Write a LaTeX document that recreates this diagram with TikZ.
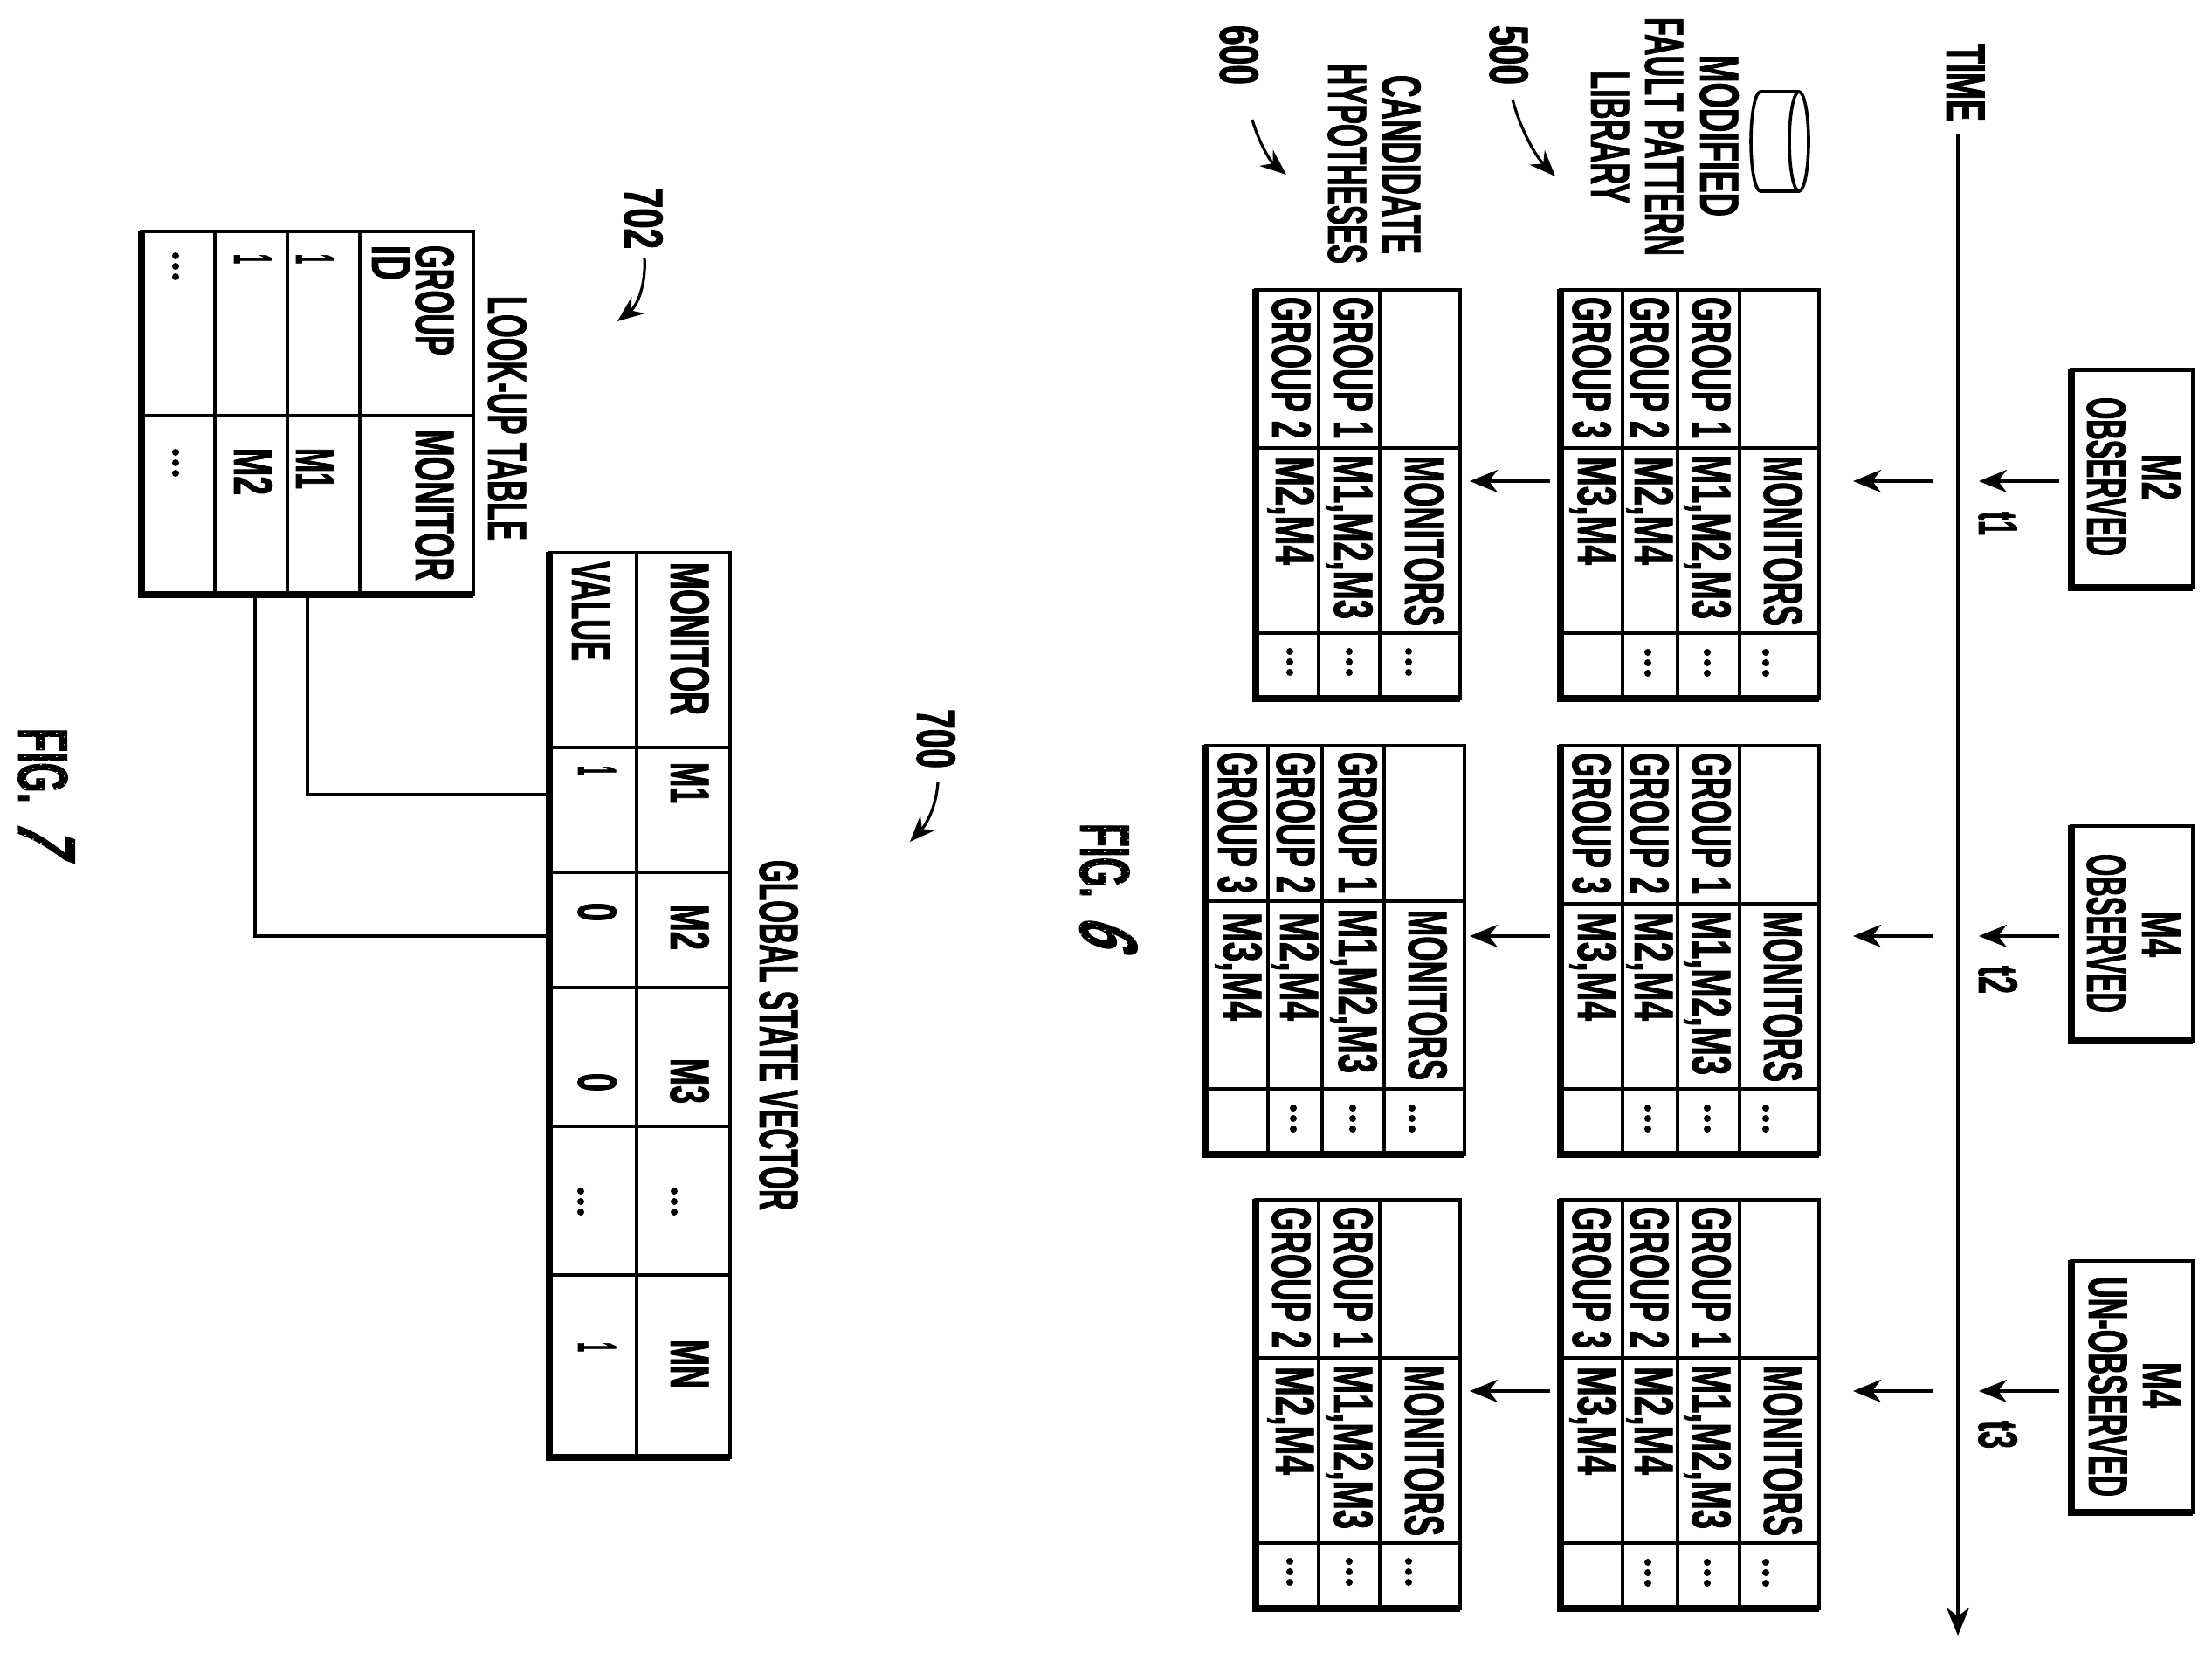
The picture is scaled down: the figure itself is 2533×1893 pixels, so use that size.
\documentclass[tikz,border=0pt]{standalone}
\usepackage{fontspec}
\usepackage{graphicx}
\usetikzlibrary{arrows.meta}
\newfontfamily\dfont[FakeStretch=0.56,FakeBold=1.2]{Liberation Sans Bold}
\newfontfamily\ffont[FakeStretch=0.56,FakeBold=1.2,FakeSlant=0.3]{Liberation Sans Bold}
\newdimen\pxu \pxu=0.5pt
\newcounter{lc}
\tikzset{
  thinline/.style={line width=1.85pt,line cap=rect},
  thickline/.style={line width=4pt,line cap=rect},
  conn/.style={line width=2pt},
  arr/.style={line width=2pt,-{Stealth[length=16pt,width=13pt,inset=5pt]}},
  lead/.style={line width=1.6pt,-{Stealth[length=15pt,width=12pt,inset=5pt]}},
  lbl/.style={rotate=-90,anchor=base west,inner sep=0pt,outer sep=0pt,font=\dfont\fontsize{31.5pt}{34pt}\selectfont},
  figlbl/.style={rotate=-90,anchor=base west,inner sep=0pt,outer sep=0pt,font=\dfont\fontsize{40.5pt}{42pt}\selectfont},
  fignum/.style={rotate=-90,anchor=base west,inner sep=0pt,outer sep=0pt,font=\ffont\fontsize{47pt}{49pt}\selectfont},
  tablebox/.style={draw,line width=1.85pt,inner sep=0pt,outer sep=0pt}
}
% base x, top y, length in px, text
\newcommand{\lab}[4]{\stepcounter{lc}\node[lbl,name=L\arabic{lc}] at (#1,#2) {\resizebox{#3\pxu}{\height}{#4}};}
\newcommand{\threedots}[2]{\foreach \k in {0,12,24}{\fill (#1,{#2+\k}) circle[radius=2pt];}}
% name, x0,x1,y0,y1, row xs, col ys
\newcommand{\dtable}[7]{%
  \node[tablebox,minimum width={(#3-#2)*0.5pt},minimum height={(#5-#4)*0.5pt}] (#1) at ({(#2+#3)/2},{(#4+#5)/2}) {};
  \foreach \r in {#6}{\draw[thinline] (\r,#4) -- (\r,#5);}
  \foreach \c in {#7}{\draw[thinline] (#2,\c) -- (#3,\c);}
  \draw[thickline] (#2,{#4+3}) -- (#2,#5) -- ({#3-4},#5);
}
% library table at top y
\newcommand{\libtable}[2]{%
  \dtable{#1}{1787}{2083}{#2}{#2+468}{1858,1921,1992}{#2+181,#2+393}
  \lab{1938}{#2+8}{162}{GROUP 1}
  \lab{1867}{#2+8}{162}{GROUP 2}
  \lab{1801}{#2+8}{162}{GROUP 3}
  \lab{2020}{#2+190}{195}{MONITORS}
  \lab{1938}{#2+189}{188}{M1,M2,M3}
  \lab{1872}{#2+191}{124}{M2,M4}
  \lab{1807}{#2+191}{124}{M3,M4}
  \threedots{2022}{#2+415}
  \threedots{1955}{#2+415}
  \threedots{1887}{#2+415}
}
% three-row candidate table
\newcommand{\candtable}[2]{%
  \dtable{#1}{1438}{1672}{#2}{#2+468}{1510,1580}{#2+181,#2+393}
  \lab{1528}{#2+8}{162}{GROUP 1}
  \lab{1457}{#2+8}{162}{GROUP 2}
  \lab{1609}{#2+190}{195}{MONITORS}
  \lab{1528}{#2+189}{188}{M1,M2,M3}
  \lab{1461}{#2+191}{124}{M2,M4}
  \threedots{1613}{#2+414}
  \threedots{1545}{#2+414}
  \threedots{1477}{#2+414}
}
\newcommand{\stipple}[4]{%
  \foreach \i in {0,...,#3}{\foreach \j in {0,...,#4}{%
    \fill[white] ({#1+\i*9},{#2+\j*9+mod(\i,2)*4.5}) circle[radius=0.45pt];}}}
\begin{document}
\begin{tikzpicture}[x=0.5pt,y=-0.5pt]
\useasboundingbox (0,0) rectangle (2533,1893);
\fill[white] (0,0) rectangle (2533,1893);

% time axis
\lab{2229}{50}{89}{TIME}
\coordinate (ts) at (2242,154);
\coordinate (te) at (2242,1873);
\draw[line width=2pt,-{Stealth[length=16pt,width=13pt,inset=5pt]}] (ts) -- (te);

% event boxes
\foreach \n/\a/\b in {ba/424/673,bb/946/1192,bc/1444/1732}{
  \node[tablebox,minimum width={(2511-2372)*0.5pt},minimum height={(\b-\a)*0.5pt}] (\n) at ({(2372+2511)/2},{(\a+\b)/2}) {};
  \draw[thickline] (2372,{\a+3}) -- (2372,\b) -- (2507,\b);
}
\lab{2453}{520}{53}{M2}
\lab{2390}{455}{182}{OBSERVED}
\lab{2453}{1043}{53}{M4}
\lab{2390}{978}{182}{OBSERVED}
\lab{2454}{1560}{53}{M4}
\lab{2392}{1462}{252}{UN-OBSERVED}
\lab{2266}{586}{27}{t1}
\lab{2266}{1106}{32}{t2}
\lab{2266}{1627}{32}{t3}

% event arrows
\foreach \i/\y in {1/551,2/1072,3/1593}{
  \coordinate (es\i) at (2358,\y);
  \coordinate (ee\i) at (2266,\y);
  \draw[arr] (es\i) -- (ee\i);
  \coordinate (ls\i) at (2214,\y);
  \coordinate (le\i) at (2122,\y);
  \draw[arr] (ls\i) -- (le\i);
  \coordinate (cs\i) at (1775,\y);
  \coordinate (ce\i) at (1683,\y);
  \draw[arr] (cs\i) -- (ce\i);
}

% library column
\libtable{liba}{332}
\libtable{libb}{854}
\libtable{libc}{1374}

% candidates
\candtable{canda}{332}
\dtable{candb}{1381}{1677}{854}{1322}{1452,1514,1585}{1032,1247}
\lab{1533}{861}{162}{GROUP 1}
\lab{1462}{861}{162}{GROUP 2}
\lab{1395}{861}{162}{GROUP 3}
\lab{1613}{1042}{195}{MONITORS}
\lab{1533}{1041}{188}{M1,M2,M3}
\lab{1466}{1045}{124}{M2,M4}
\lab{1401}{1045}{124}{M3,M4}
\threedots{1617}{1269}
\threedots{1549}{1269}
\threedots{1481}{1269}
\candtable{candc}{1374}

% cylinder and labels
\draw[line width=1.8pt] (2060,105) -- (2016,105) arc[start angle=90,end angle=270,x radius=5.5pt,y radius=28.5pt] -- (2060,219);
\draw[line width=1.8pt] (2060,162) ellipse[x radius=5.5pt,y radius=28.5pt];
\lab{1947}{63}{185}{MODIFIED}
\lab{1884}{20}{273}{FAULT PATTERN}
\lab{1822}{81}{152}{LIBRARY}
\lab{1706}{29}{68}{500}
\coordinate (l5s) at (1732,114);
\coordinate (l5e) at (1781,202);
\draw[lead] (l5s) .. controls (1742,150) and (1758,178) .. (l5e);
\lab{1583}{86}{205}{CANDIDATE}
\lab{1521}{73}{229}{HYPOTHESES}
\lab{1397}{29}{68}{600}
\coordinate (l6s) at (1434,137);
\coordinate (l6e) at (1473,200);
\draw[lead] (l6s) .. controls (1442,165) and (1455,185) .. (l6e);

% FIG 6
\node[figlbl] (fig6) at (1237,943) {\resizebox{85\pxu}{\height}{FIG.}};
\node[fignum] (fig6n) at (1237,1047) {\resizebox{32\pxu}{\height}{6}};
\stipple{1238}{944}{7}{14}

% Global state vector
\lab{870}{985}{401}{GLOBAL STATE VECTOR}
\dtable{gsv}{629}{836}{633}{1669}{729}{856,999,1131,1290,1460}
\lab{768}{644}{175}{MONITOR}
\lab{655}{643}{114}{VALUE}
\lab{768}{873}{47}{M1}
\lab{768}{1035}{53}{M2}
\lab{768}{1212}{52}{M3}
\lab{768}{1534}{56}{MN}
\lab{662}{877}{11}{1}
\lab{662}{1034}{21}{0}
\lab{662}{1229}{21}{0}
\lab{662}{1537}{11}{1}
\threedots{772}{1364}
\threedots{665}{1364}
\lab{1050}{812}{68}{700}
\coordinate (l7s) at (1074,896);
\coordinate (l7e) at (1042,964);
\draw[lead] (l7s) .. controls (1072,925) and (1060,945) .. (l7e);

% Look-up table
\lab{559}{339}{280}{LOOK-UP TABLE}
\dtable{lut}{162}{542}{265}{681}{246,329,412}{476}
\lab{476}{281}{126}{GROUP}
\lab{426}{281}{40}{ID}
\lab{476}{492}{173}{MONITOR}
\lab{339}{291}{11}{1}
\lab{268}{291}{11}{1}
\lab{339}{513}{47}{M1}
\lab{268}{513}{54}{M2}
\threedots{201}{293}
\threedots{201}{518}
\lab{715}{215}{70}{702}
\coordinate (l8s) at (738,295);
\coordinate (l8e) at (707,368);
\draw[lead] (l8s) .. controls (740,325) and (730,350) .. (l8e);

% connectors
\coordinate (c1) at (352,681);
\coordinate (c1t) at (629,910);
\coordinate (c2) at (292,681);
\coordinate (c2t) at (629,1072);
\draw[conn] (c1) |- (c1t);
\draw[conn] (c2) |- (c2t);

% FIG 7
\node[figlbl] (fig7) at (21,834) {\resizebox{86\pxu}{\height}{FIG.}};
\node[fignum] (fig7n) at (21,938) {\resizebox{32\pxu}{\height}{7}};
\stipple{20}{835}{8}{14}
\end{tikzpicture}
\end{document}
